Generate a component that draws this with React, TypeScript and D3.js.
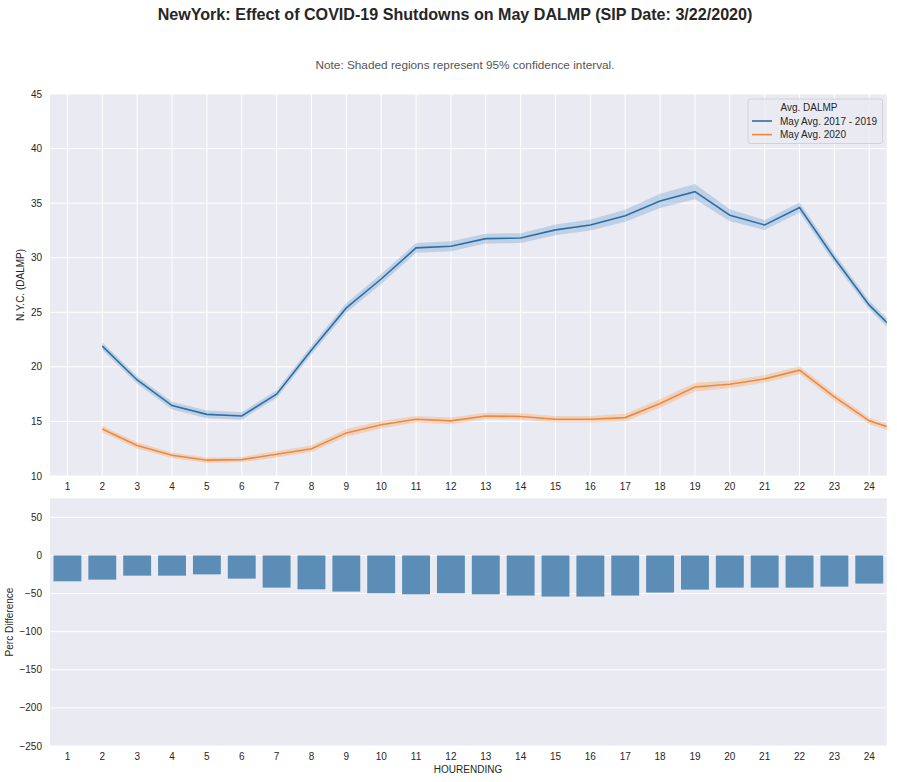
import React, { useRef, useEffect } from 'react';
import * as d3 from 'd3';

// Hour-ending labels shared by both panels
const hours = d3.range(1, 25);

// Average DALMP by hour (line plot, drawn one slot right as in the original)
const avg2017to2019 = [21.9, 18.8, 16.45, 15.65, 15.5, 17.5, 21.55, 25.4, 28.05, 30.9, 31.05, 31.75, 31.8, 32.55, 33.0, 33.85, 35.2, 36.05, 33.9, 33.0, 34.6, 29.95, 25.65, 22.5];
const avg2020 = [14.3, 12.8, 11.9, 11.45, 11.5, 12.0, 12.5, 13.95, 14.7, 15.2, 15.05, 15.5, 15.45, 15.2, 15.2, 15.35, 16.65, 18.15, 18.4, 18.9, 19.7, 17.25, 15.05, 14.0];

// half-width of the 95% confidence band
const ci2017to2019 = [0.35, 0.35, 0.35, 0.35, 0.35, 0.35, 0.4, 0.45, 0.45, 0.45, 0.45, 0.45, 0.45, 0.5, 0.5, 0.55, 0.65, 0.7, 0.55, 0.45, 0.45, 0.45, 0.4, 0.4];
const ci2020 = [0.3, 0.3, 0.25, 0.25, 0.25, 0.3, 0.3, 0.35, 0.35, 0.3, 0.3, 0.3, 0.3, 0.3, 0.3, 0.35, 0.4, 0.4, 0.35, 0.35, 0.35, 0.35, 0.3, 0.3];

// Percent difference per hour (bar plot)
const percDiff = [-33.9, -31.7, -26.5, -26.5, -24.8, -30.4, -42.2, -44.4, -47.4, -49.6, -50.9, -49.6, -50.9, -52.6, -53.9, -53.9, -52.6, -48.7, -44.8, -42.2, -42.2, -42.2, -40.9, -36.9];

const topTicks = [10, 15, 20, 25, 30, 35, 40, 45];
const bottomTicks = [-250, -200, -150, -100, -50, 0, 50];

const seriesNames = ['May Avg. 2017 - 2019', 'May Avg. 2020'];

const W = 897;
const H = 782;
const FONT = '"Liberation Sans", Arial, sans-serif';
const TEXT = '#262626';
const BG = '#eaeaf2';

export default function App() {
  const svgRef = useRef<SVGSVGElement>(null);

  useEffect(() => {
    document.body.style.margin = '0';
    const svg = d3.select(svgRef.current);
    svg.selectAll('*').remove();
    svg.attr('width', W).attr('height', H).style('font-family', FONT).style('background', '#fff');

    const left = 50;
    const right = 886.7;

    // position scale: slot i is labelled hours[i]
    const xPos = d3.scaleLinear().domain([-0.5, 23.5]).range([left, right]);
    const xBand = d3.scaleBand<string>()
      .domain(hours.map(String))
      .range([left, right])
      .paddingInner(0.2)
      .paddingOuter(0.1);

    // ---------- Titles ----------
    svg.append('text')
      .attr('x', 455).attr('y', 20)
      .attr('text-anchor', 'middle')
      .style('font-size', '16.1px').style('font-weight', 'bold')
      .attr('fill', TEXT)
      .text('NewYork: Effect of COVID-19 Shutdowns on May DALMP (SIP Date: 3/22/2020)');

    svg.append('text')
      .attr('x', 465).attr('y', 69)
      .attr('text-anchor', 'middle')
      .style('font-size', '11.8px')
      .attr('fill', '#555')
      .text('Note: Shaded regions represent 95% confidence interval.');

    // ---------- Top panel ----------
    const topY = d3.scaleLinear().domain([10, 45]).range([476, 94]);
    const top = svg.append('g');

    top.append('rect')
      .attr('x', left).attr('y', 94)
      .attr('width', right - left).attr('height', 476 - 94)
      .attr('fill', BG);

    top.selectAll('.vgrid').data(hours).enter().append('line')
      .attr('x1', (_, i) => xPos(i)).attr('x2', (_, i) => xPos(i))
      .attr('y1', 94).attr('y2', 476)
      .attr('stroke', '#fff').attr('stroke-width', 1);

    top.selectAll('.hgrid').data(topTicks).enter().append('line')
      .attr('x1', left).attr('x2', right)
      .attr('y1', d => topY(d)).attr('y2', d => topY(d))
      .attr('stroke', '#fff').attr('stroke-width', 1);

    top.selectAll('.ytl').data(topTicks).enter().append('text')
      .attr('x', 42).attr('y', d => topY(d))
      .attr('dy', '0.35em').attr('text-anchor', 'end')
      .style('font-size', '10px').attr('fill', TEXT)
      .text(d => d);

    top.selectAll('.xtl').data(hours).enter().append('text')
      .attr('x', (_, i) => xPos(i)).attr('y', 490)
      .attr('text-anchor', 'middle')
      .style('font-size', '10px').attr('fill', TEXT)
      .text(d => d);

    top.append('text')
      .attr('transform', `translate(24,285) rotate(-90)`)
      .attr('text-anchor', 'middle')
      .style('font-size', '10px').attr('fill', TEXT)
      .text('N.Y.C. (DALMP)');

    svg.append('defs').append('clipPath').attr('id', 'top-clip')
      .append('rect')
      .attr('x', left).attr('y', 94)
      .attr('width', right - left).attr('height', 476 - 94);

    const plotArea = top.append('g').attr('clip-path', 'url(#top-clip)');

    const series = [
      { name: seriesNames[0], values: avg2017to2019, ci: ci2017to2019, color: '#2f6ea3', band: '#1f77b4' },
      { name: seriesNames[1], values: avg2020, ci: ci2020, color: '#f0883c', band: '#ff7f0e' }
    ];

    series.forEach(s => {
      const pts = s.values.map((v, i) => ({ x: hours[i], v, c: s.ci[i] }));
      const area = d3.area<{ x: number; v: number; c: number }>()
        .x(d => xPos(d.x))
        .y0(d => topY(d.v - d.c))
        .y1(d => topY(d.v + d.c));
      const line = d3.line<{ x: number; v: number; c: number }>()
        .x(d => xPos(d.x))
        .y(d => topY(d.v));
      plotArea.append('path').attr('d', area(pts) as string)
        .attr('fill', s.band).attr('opacity', 0.22);
      plotArea.append('path').attr('d', line(pts) as string)
        .attr('fill', 'none').attr('stroke', s.color).attr('stroke-width', 1.6);
    });

    // legend
    const lg = top.append('g');
    lg.append('rect')
      .attr('x', 748).attr('y', 99)
      .attr('width', 134.5).attr('height', 44.5)
      .attr('rx', 2.5)
      .attr('fill', BG).attr('fill-opacity', 0.8)
      .attr('stroke', '#cccccc').attr('stroke-width', 0.8);
    lg.append('text')
      .attr('x', 809).attr('y', 110.5)
      .attr('text-anchor', 'middle')
      .style('font-size', '10px').attr('fill', TEXT)
      .text('Avg. DALMP');
    series.forEach((s, i) => {
      const yy = 121 + i * 13.6;
      lg.append('line')
        .attr('x1', 752).attr('x2', 772)
        .attr('y1', yy).attr('y2', yy)
        .attr('stroke', s.color).attr('stroke-width', 1.6);
      lg.append('text')
        .attr('x', 780).attr('y', yy).attr('dy', '0.35em')
        .style('font-size', '10px').attr('fill', TEXT)
        .text(s.name);
    });

    // ---------- Bottom panel ----------
    const botY = d3.scaleLinear().domain([-250, 75]).range([746, 498.3]);
    const bot = svg.append('g');

    bot.append('rect')
      .attr('x', left).attr('y', 498.3)
      .attr('width', right - left).attr('height', 746 - 498.3)
      .attr('fill', BG);

    bot.selectAll('.hgrid').data(bottomTicks).enter().append('line')
      .attr('x1', left).attr('x2', right)
      .attr('y1', d => botY(d)).attr('y2', d => botY(d))
      .attr('stroke', '#fff').attr('stroke-width', 1);

    bot.selectAll('.bar').data(percDiff).enter().append('rect')
      .attr('x', (_, i) => xBand(String(hours[i])) as number)
      .attr('width', xBand.bandwidth())
      .attr('y', d => botY(Math.max(0, d)))
      .attr('height', d => Math.abs(botY(d) - botY(0)))
      .attr('fill', '#5b8db6');

    bot.selectAll('.ytl').data(bottomTicks).enter().append('text')
      .attr('x', 42).attr('y', d => botY(d))
      .attr('dy', '0.35em').attr('text-anchor', 'end')
      .style('font-size', '10px').attr('fill', TEXT)
      .text(d => (d < 0 ? '\u2212' + Math.abs(d) : String(d)));

    bot.selectAll('.xtl').data(hours).enter().append('text')
      .attr('x', d => (xBand(String(d)) as number) + xBand.bandwidth() / 2)
      .attr('y', 760)
      .attr('text-anchor', 'middle')
      .style('font-size', '10px').attr('fill', TEXT)
      .text(d => d);

    bot.append('text')
      .attr('x', 468).attr('y', 773)
      .attr('text-anchor', 'middle')
      .style('font-size', '10px').attr('fill', TEXT)
      .text('HOURENDING');

    bot.append('text')
      .attr('transform', `translate(13,622) rotate(-90)`)
      .attr('text-anchor', 'middle')
      .style('font-size', '10px').attr('fill', TEXT)
      .text('Perc Difference');
  }, []);

  return (
    <div>
      <svg ref={svgRef} />
    </div>
  );
}
